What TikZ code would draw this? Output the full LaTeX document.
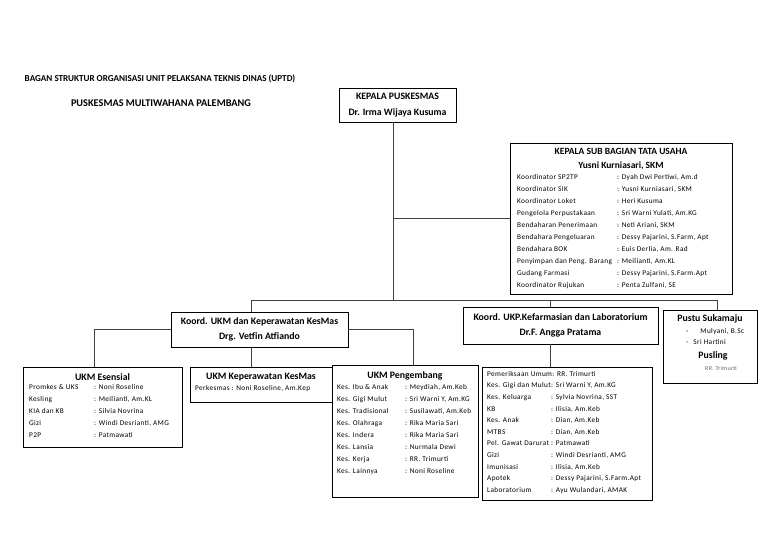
\documentclass[tikz,border=0pt]{standalone}
\usepackage{fontspec}
\setmainfont{Carlito}
\newfontfamily\listfont[LetterSpace=5]{Carlito}
\usetikzlibrary{positioning,calc}

\tikzset{
  box/.style={draw, line width=0.8pt, inner sep=0pt},
  head/.style={font=\bfseries\fontsize{9.8}{15.5}\selectfont, align=center, inner sep=0pt},
  title/.style={font=\bfseries\fontsize{9.1}{10}\selectfont, inner sep=0pt},
  list/.style={font=\listfont\fontsize{7.3}{12}\selectfont, anchor=north west, inner sep=0pt},
  item/.style={font=\listfont\fontsize{7.3}{9}\selectfont, anchor=west, inner sep=0pt},
  link/.style={line width=0.8pt, black!75},
}

\begin{document}
\begin{tikzpicture}[x=1pt,y=-1pt]
\path[fill=white,use as bounding box] (0,0) rectangle (768,543);

\node[title] (judul1) at (160,79) {BAGAN STRUKTUR ORGANISASI UNIT PELAKSANA TEKNIS DINAS (UPTD)};
\node[title, font=\bfseries\fontsize{10.3}{11}\selectfont] (judul2) at (161,103) {PUSKESMAS MULTIWAHANA PALEMBANG};

\node[box, head, minimum width=117, minimum height=34] (kepala) at (397.5,105) {KEPALA PUSKESMAS\\Dr. Irma Wijaya Kusuma};

\node[box, minimum width=222, minimum height=151] (tu) at (621,218.5) {};
\node[head, font=\bfseries\fontsize{9.5}{14}\selectfont] (tuhead) at (621,159) {KEPALA SUB BAGIAN TATA USAHA\\Yusni Kurniasari, SKM};
\node[list] (tulist) at (517,170.9) {%
\begin{tabular}{@{}p{100pt}@{}l@{}}
Koordinator SP2TP & : Dyah Dwi Pertiwi, Am.d\\
Koordinator SIK & : Yusni Kurniasari, SKM\\
Koordinator Loket & : Heri Kusuma\\
Pengelola Perpustakaan & : Sri Warni Yulati, Am.KG\\
Bendaharan Penerimaan & : Neti Ariani, SKM\\
Bendahara Pengeluaran & : Dessy Pajarini, S.Farm, Apt\\
Bendahara BOK & : Euis Derlia, Am. Rad\\
Penyimpan dan Peng. Barang & : Meilianti, Am.KL\\
Gudang Farmasi & : Dessy Pajarini, S.Farm.Apt\\
Koordinator Rujukan & : Penta Zulfani, SE
\end{tabular}};

\coordinate (bus) at (393,300);
\coordinate (busL) at (251,300);
\coordinate (busM) at (550,300);
\coordinate (busR) at (717,300);
\draw[link] (kepala.south -| bus) -- (bus);
\draw[link] (bus |- tu.west) -- (tu.west);
\draw[link] (busL) -- (busR);

\node[box, head, minimum width=177, minimum height=35] (ukm) at (259.5,329.5) {Koord. UKM dan Keperawatan KesMas\\Drg. Vetfin Atfiando};
\node[box, head, minimum width=195, minimum height=37] (ukp) at (560.5,325.5) {Koord. UKP.Kefarmasian dan Laboratorium\\Dr.F. Angga Pratama};
\node[box, minimum width=94, minimum height=73] (pustu) at (710,346.5) {};
\draw[link] (busL) -- (busL |- ukm.north);
\draw[link] (busM) -- (busM |- ukp.north);
\draw[link] (busR) -- (busR |- pustu.north);

\node[head] (pustuhead) at (710,319) {Pustu Sukamaju};
\node[item] (pustu1) at (686,332) {-\hspace{12pt}Mulyani, B.Sc};
\node[item] (pustu2) at (686,342) {-\hspace{5pt}Sri Hartini};
\node[head] (pusling) at (713,356) {Pusling};
\node[item, font=\listfont\fontsize{6}{7}\selectfont, text=black!60] (pusling1) at (705,368) {RR. Trimurti};

\node[box, minimum width=159, minimum height=80] (esensial) at (102.5,407) {};
\node[box, minimum width=142, minimum height=35] (kep) at (261,384.5) {};
\node[box, minimum width=146, minimum height=132] (peng) at (405,431) {};
\node[box, minimum width=170, minimum height=133] (farm) at (567,433.5) {};
\draw[link] (ukm.west) -| ([xshift=-8.5pt]esensial.north);
\draw[link] ([xshift=-8.5pt]ukm.south) -- ([xshift=-8.5pt]ukm.south |- kep.north);
\draw[link] (ukm.east) -| ([xshift=8pt]peng.north);
\draw[link] (busM |- ukp.south) -- (busM |- farm.north);

\node[head] (esensialhead) at (102.5,377) {UKM Esensial};
\node[list] (esensiallist) at (29,381) {%
\begin{tabular}{@{}p{65pt}@{}l@{}}
Promkes \& UKS & : Noni Roseline\\
Kesling & : Meilianti, Am.KL\\
KIA dan KB & : Silvia Novrina\\
Gizi & : Windi Desrianti, AMG\\
P2P & : Patmawati
\end{tabular}};

\node[head] (kephead) at (261,377) {UKM Keperawatan KesMas};
\node[item] (keplist) at (195,389) {Perkesmas : Noni Roseline, Am.Kep};

\node[head] (penghead) at (405,376) {UKM Pengembang};
\node[list] (penglist) at (337,381) {%
\begin{tabular}{@{}p{68pt}@{}l@{}}
Kes. Ibu \& Anak & : Meydiah, Am.Keb\\
Kes. Gigi Mulut & : Sri Warni Y, Am.KG\\
Kes. Tradisional & : Susilawati, Am.Keb\\
Kes. Olahraga & : Rika Maria Sari\\
Kes. Indera & : Rika Maria Sari\\
Kes. Lansia & : Nurmala Dewi\\
Kes. Kerja & : RR. Trimurti\\
Kes. Lainnya & : Noni Roseline
\end{tabular}};

\node[list, font=\listfont\fontsize{7.3}{11.6}\selectfont] (farmlist) at (487,368) {%
\begin{tabular}{@{}p{64pt}@{}l@{}}
\multicolumn{2}{@{}l@{}}{Pemeriksaan Umum: RR. Trimurti}\\
\multicolumn{2}{@{}l@{}}{Kes. Gigi dan Mulut: Sri Warni Y, Am.KG}\\
Kes. Keluarga & : Sylvia Novrina, SST\\
KB & : Ilisia, Am.Keb\\
Kes. Anak & : Dian, Am.Keb\\
MTBS & : Dian, Am.Keb\\
\multicolumn{2}{@{}l@{}}{Pel. Gawat Darurat : Patmawati}\\
Gizi & : Windi Desrianti, AMG\\
Imunisasi & : Ilisia, Am.Keb\\
Apotek & : Dessy Pajarini, S.Farm.Apt\\
Laboratorium & : Ayu Wulandari, AMAK
\end{tabular}};
\end{tikzpicture}
\end{document}
